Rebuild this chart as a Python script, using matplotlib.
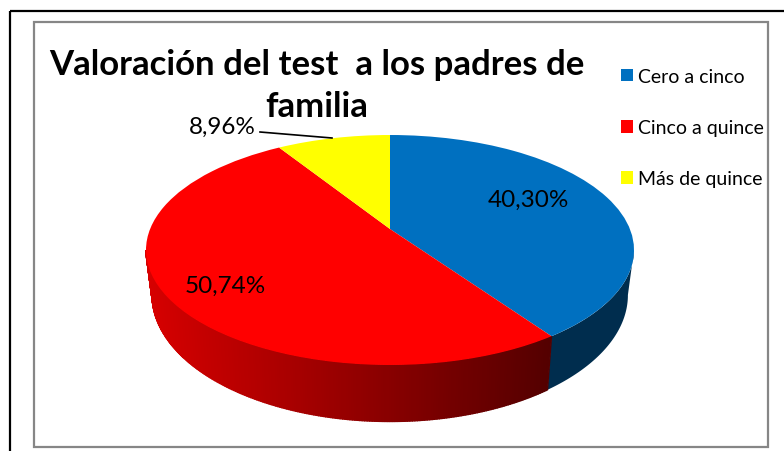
import numpy as np
import matplotlib
matplotlib.use("Agg")
import matplotlib.pyplot as plt
from matplotlib.patches import Rectangle
from matplotlib.transforms import Transform

categories = ["Cero a cinco", "Cinco a quince", "Más de quince"]
values = [40.30, 50.74, 8.96]
colors = ["#0070C0", "#FF0000", "#FFFF00"]
title = "Valoración del test  a los padres de\nfamilia"
FONT = "Lato"

# perspective layout of the disc, in figure pixels
CX, CY, RY, PERSP = 390.0, 251.0, 115.0, 0.1826
AX = 244.0 * np.sqrt(1 - PERSP ** 2)


def project(u, v):
    d = 1 + PERSP * v
    return CX + AX * u / d, CY - (RY * v + RY * PERSP) / d


class DiscTransform(Transform):
    input_dims = output_dims = 2
    has_inverse = False

    def transform_non_affine(self, values):
        xy = np.asarray(values, dtype=float)
        x, y = project(xy[:, 0], xy[:, 1])
        return np.column_stack([x, y])


plt.rcParams["font.family"] = [FONT, "DejaVu Sans"]
fig = plt.figure(figsize=(7.84, 4.52), dpi=100, facecolor="white")
ax = fig.add_axes([0, 0, 1, 1])

wedges, _ = ax.pie(values, colors=colors, startangle=90, counterclock=False,
                   radius=1, wedgeprops={"linewidth": 0})
ax.set_aspect("auto")
ax.set_xlim(0, 784)
ax.set_ylim(452, 0)
ax.axis("off")
disc = DiscTransform() + ax.transData
for w in wedges:
    w.set_transform(disc)
    w.set_zorder(5)

# frames
ax.add_patch(Rectangle((10.5, 12), 800, 500, fill=False, ec="black", lw=1.6, zorder=1))
ax.add_patch(Rectangle((34.5, 23), 733.5, 425, fill=False, ec="#868686", lw=1.6, zorder=1))

# side wall of the pie: strips around the lower rim, split where the slices end
edges = 90 - 3.6 * np.cumsum([0] + values)
wall_flat = {0: (0 / 255, 45 / 255, 78 / 255)}
tangent = np.degrees(np.arcsin(PERSP))  # rim angle of the disc's widest point
for i, (a0, a1) in enumerate(zip(edges[:-1], edges[1:])):
    lo, hi = max(a1, -180.0 + tangent), min(a0, -tangent)
    if lo >= hi:
        continue
    angs = np.radians(np.linspace(lo, hi, int(hi - lo) * 2 + 2))
    x0, y0 = project(np.cos(angs), np.sin(angs))
    x1 = CX + (x0 - CX) * 0.975
    y1 = CY + (y0 - CY) * 1.10 + 45
    if i in wall_flat:
        ax.fill(np.r_[x0, x1[::-1]], np.r_[y0, y1[::-1]], color=wall_flat[i], lw=0, zorder=3)
        continue
    for k in range(len(angs) - 1):
        mx = 0.5 * (x0[k] + x0[k + 1])
        r = 215 + (85 - 215) * (mx - 146) / (548 - 146)
        c = (np.clip(r, 60, 225) / 255, 0, 0)
        ax.fill([x0[k], x0[k + 1], x1[k + 1], x1[k]],
                [y0[k], y0[k + 1], y1[k + 1], y1[k]],
                color=c, lw=1.0, zorder=3)

# data labels
fmt = [f"{v:.2f}%".replace(".", ",") for v in values]
for s, (x, y) in zip(fmt, [(528, 200), (225, 286), (222, 127)]):
    ax.text(x, y, s, ha="center", va="center", fontsize=17.5, color="black", zorder=7)
ax.plot([260, 332], [133, 139], color="black", lw=1.2, zorder=6)

# title
ax.text(317, 86, title, ha="center", va="center", fontsize=25, fontweight="bold",
        color="black", linespacing=1.4, zorder=6)

# legend
ax.legend(wedges, categories, loc="upper left", bbox_to_anchor=(621 / 784, 1 - 69 / 452),
          frameon=False, fontsize=14, labelspacing=1.76, handlelength=0.62,
          handleheight=0.62, handletextpad=0.26, borderpad=0, borderaxespad=0)

fig.savefig("out.png", dpi=100, facecolor="white")
